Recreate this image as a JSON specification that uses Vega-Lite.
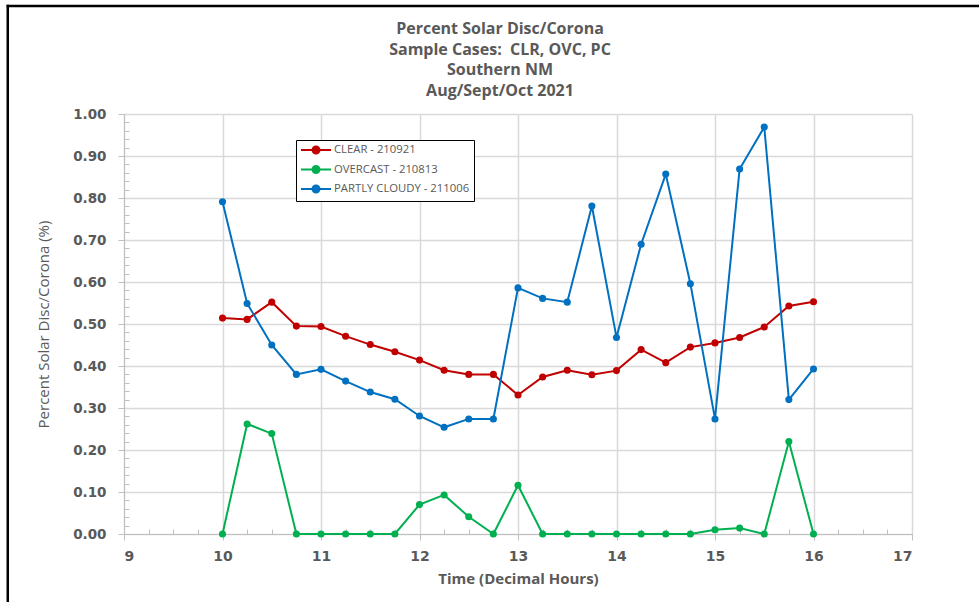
{
  "$schema": "https://vega.github.io/schema/vega-lite/v6.json",
  "width": 788,
  "height": 420,
  "autosize": {"type": "none"},
  "padding": {"left": 124, "top": 114, "right": 67, "bottom": 68},
  "background": "white",
  "title": {
    "text": ["Percent Solar Disc/Corona", "Sample Cases:\u00a0 CLR, OVC, PC", "Southern NM", "Aug/Sept/Oct 2021"],
    "anchor": "middle",
    "dx": -18,
    "offset": -95,
    "font": "Open Sans",
    "fontSize": 16,
    "fontWeight": "bold",
    "color": "#595959",
    "lineHeight": 20.5
  },
  "config": {
    "view": {"stroke": null},
    "axis": {
      "labelFont": "DejaVu Sans",
      "labelFontWeight": "bold",
      "labelFontSize": 13.5,
      "labelColor": "#595959",
      "titleColor": "#595959",
      "titleFont": "Open Sans",
      "domainColor": "#bfbfbf",
      "tickColor": "#bfbfbf",
      "gridColor": "#d9d9d9",
      "gridWidth": 1.5
    }
  },
  "datasets": {
    "cases": [
      {"case": "CLEAR - 210921", "time": 10, "pct": 0.514},
      {"case": "CLEAR - 210921", "time": 10.25, "pct": 0.511},
      {"case": "CLEAR - 210921", "time": 10.5, "pct": 0.552},
      {"case": "CLEAR - 210921", "time": 10.75, "pct": 0.495},
      {"case": "CLEAR - 210921", "time": 11, "pct": 0.494},
      {"case": "CLEAR - 210921", "time": 11.25, "pct": 0.471},
      {"case": "CLEAR - 210921", "time": 11.5, "pct": 0.451},
      {"case": "CLEAR - 210921", "time": 11.75, "pct": 0.434},
      {"case": "CLEAR - 210921", "time": 12, "pct": 0.414},
      {"case": "CLEAR - 210921", "time": 12.25, "pct": 0.390},
      {"case": "CLEAR - 210921", "time": 12.5, "pct": 0.380},
      {"case": "CLEAR - 210921", "time": 12.75, "pct": 0.380},
      {"case": "CLEAR - 210921", "time": 13, "pct": 0.331},
      {"case": "CLEAR - 210921", "time": 13.25, "pct": 0.374},
      {"case": "CLEAR - 210921", "time": 13.5, "pct": 0.390},
      {"case": "CLEAR - 210921", "time": 13.75, "pct": 0.379},
      {"case": "CLEAR - 210921", "time": 14, "pct": 0.389},
      {"case": "CLEAR - 210921", "time": 14.25, "pct": 0.439},
      {"case": "CLEAR - 210921", "time": 14.5, "pct": 0.408},
      {"case": "CLEAR - 210921", "time": 14.75, "pct": 0.445},
      {"case": "CLEAR - 210921", "time": 15, "pct": 0.455},
      {"case": "CLEAR - 210921", "time": 15.25, "pct": 0.468},
      {"case": "CLEAR - 210921", "time": 15.5, "pct": 0.493},
      {"case": "CLEAR - 210921", "time": 15.75, "pct": 0.543},
      {"case": "CLEAR - 210921", "time": 16, "pct": 0.553},
      {"case": "OVERCAST - 210813", "time": 10, "pct": 0.0},
      {"case": "OVERCAST - 210813", "time": 10.25, "pct": 0.262},
      {"case": "OVERCAST - 210813", "time": 10.5, "pct": 0.239},
      {"case": "OVERCAST - 210813", "time": 10.75, "pct": 0.0},
      {"case": "OVERCAST - 210813", "time": 11, "pct": 0.0},
      {"case": "OVERCAST - 210813", "time": 11.25, "pct": 0.0},
      {"case": "OVERCAST - 210813", "time": 11.5, "pct": 0.0},
      {"case": "OVERCAST - 210813", "time": 11.75, "pct": 0.0},
      {"case": "OVERCAST - 210813", "time": 12, "pct": 0.070},
      {"case": "OVERCAST - 210813", "time": 12.25, "pct": 0.093},
      {"case": "OVERCAST - 210813", "time": 12.5, "pct": 0.041},
      {"case": "OVERCAST - 210813", "time": 12.75, "pct": 0.0},
      {"case": "OVERCAST - 210813", "time": 13, "pct": 0.116},
      {"case": "OVERCAST - 210813", "time": 13.25, "pct": 0.0},
      {"case": "OVERCAST - 210813", "time": 13.5, "pct": 0.0},
      {"case": "OVERCAST - 210813", "time": 13.75, "pct": 0.0},
      {"case": "OVERCAST - 210813", "time": 14, "pct": 0.0},
      {"case": "OVERCAST - 210813", "time": 14.25, "pct": 0.0},
      {"case": "OVERCAST - 210813", "time": 14.5, "pct": 0.0},
      {"case": "OVERCAST - 210813", "time": 14.75, "pct": 0.0},
      {"case": "OVERCAST - 210813", "time": 15, "pct": 0.010},
      {"case": "OVERCAST - 210813", "time": 15.25, "pct": 0.014},
      {"case": "OVERCAST - 210813", "time": 15.5, "pct": 0.0},
      {"case": "OVERCAST - 210813", "time": 15.75, "pct": 0.220},
      {"case": "OVERCAST - 210813", "time": 16, "pct": 0.0},
      {"case": "PARTLY CLOUDY - 211006", "time": 10, "pct": 0.791},
      {"case": "PARTLY CLOUDY - 211006", "time": 10.25, "pct": 0.549},
      {"case": "PARTLY CLOUDY - 211006", "time": 10.5, "pct": 0.450},
      {"case": "PARTLY CLOUDY - 211006", "time": 10.75, "pct": 0.380},
      {"case": "PARTLY CLOUDY - 211006", "time": 11, "pct": 0.392},
      {"case": "PARTLY CLOUDY - 211006", "time": 11.25, "pct": 0.364},
      {"case": "PARTLY CLOUDY - 211006", "time": 11.5, "pct": 0.338},
      {"case": "PARTLY CLOUDY - 211006", "time": 11.75, "pct": 0.321},
      {"case": "PARTLY CLOUDY - 211006", "time": 12, "pct": 0.281},
      {"case": "PARTLY CLOUDY - 211006", "time": 12.25, "pct": 0.254},
      {"case": "PARTLY CLOUDY - 211006", "time": 12.5, "pct": 0.274},
      {"case": "PARTLY CLOUDY - 211006", "time": 12.75, "pct": 0.274},
      {"case": "PARTLY CLOUDY - 211006", "time": 13, "pct": 0.586},
      {"case": "PARTLY CLOUDY - 211006", "time": 13.25, "pct": 0.561},
      {"case": "PARTLY CLOUDY - 211006", "time": 13.5, "pct": 0.552},
      {"case": "PARTLY CLOUDY - 211006", "time": 13.75, "pct": 0.781},
      {"case": "PARTLY CLOUDY - 211006", "time": 14, "pct": 0.468},
      {"case": "PARTLY CLOUDY - 211006", "time": 14.25, "pct": 0.690},
      {"case": "PARTLY CLOUDY - 211006", "time": 14.5, "pct": 0.857},
      {"case": "PARTLY CLOUDY - 211006", "time": 14.75, "pct": 0.596},
      {"case": "PARTLY CLOUDY - 211006", "time": 15, "pct": 0.274},
      {"case": "PARTLY CLOUDY - 211006", "time": 15.25, "pct": 0.869},
      {"case": "PARTLY CLOUDY - 211006", "time": 15.5, "pct": 0.969},
      {"case": "PARTLY CLOUDY - 211006", "time": 15.75, "pct": 0.320},
      {"case": "PARTLY CLOUDY - 211006", "time": 16, "pct": 0.393}
    ]
  },
  "resolve": {"axis": {"x": "independent", "y": "independent"}},
  "layer": [
    {
      "description": "chart frame, left edge",
      "data": {"values": [{}]},
      "mark": {"type": "rule", "color": "black", "strokeWidth": 2.5},
      "encoding": {
        "x": {"datum": 7.82, "type": "quantitative", "scale": {"domain": [9, 17], "nice": false, "zero": false}, "axis": null},
        "y": {"datum": 1.26, "type": "quantitative", "scale": {"domain": [0, 1], "nice": false}, "axis": null},
        "y2": {"datum": -0.5}
      }
    },
    {
      "description": "chart frame, top edge",
      "data": {"values": [{}]},
      "mark": {"type": "rule", "color": "black", "strokeWidth": 2.5},
      "encoding": {
        "x": {"datum": 7.808, "type": "quantitative", "scale": {"domain": [9, 17], "nice": false, "zero": false}, "axis": null},
        "x2": {"datum": 19.5},
        "y": {"datum": 1.257, "type": "quantitative", "scale": {"domain": [0, 1], "nice": false}, "axis": null}
      }
    },
    {
      "description": "minor tick marks on both axes",
      "data": {"name": "cases"},
      "mark": {"type": "point", "opacity": 0},
      "encoding": {
        "x": {
          "field": "time", "type": "quantitative",
          "scale": {"domain": [9, 17], "nice": false, "zero": false},
          "axis": {
            "orient": "bottom", "title": null, "labels": false, "grid": false, "domain": false,
            "tickSize": -5, "tickWidth": 1,
            "values": [9.25, 9.5, 9.75, 10.25, 10.5, 10.75, 11.25, 11.5, 11.75, 12.25, 12.5, 12.75, 13.25, 13.5, 13.75, 14.25, 14.5, 14.75, 15.25, 15.5, 15.75, 16.25, 16.5, 16.75]
          }
        },
        "y": {
          "field": "pct", "type": "quantitative",
          "scale": {"domain": [0, 1], "nice": false},
          "axis": {
            "orient": "left", "title": null, "labels": false, "grid": false, "domain": false,
            "tickSize": -5, "tickWidth": 1,
            "values": [0.02, 0.04, 0.06, 0.08, 0.12, 0.14, 0.16, 0.18, 0.22, 0.24, 0.26, 0.28, 0.32, 0.34, 0.36, 0.38, 0.42, 0.44, 0.46, 0.48, 0.52, 0.54, 0.56, 0.58, 0.62, 0.64, 0.66, 0.68, 0.72, 0.74, 0.76, 0.78, 0.82, 0.84, 0.86, 0.88, 0.92, 0.94, 0.96, 0.98]
          }
        }
      }
    },
    {
      "data": {"name": "cases"},
      "mark": {"type": "line", "strokeWidth": 2},
      "encoding": {
        "x": {
          "field": "time", "type": "quantitative",
          "scale": {"domain": [9, 17], "nice": false, "zero": false},
          "axis": {
            "orient": "bottom", "title": "Time (Decimal Hours)", "grid": true,
            "values": [9, 10, 11, 12, 13, 14, 15, 16, 17], "format": "d",
            "tickSize": 6, "labelPadding": 9, "labelFontSize": 14,
            "titleFontSize": 15, "titleFontWeight": "bold", "titlePadding": 8
          }
        },
        "y": {
          "field": "pct", "type": "quantitative",
          "scale": {"domain": [0, 1], "nice": false},
          "axis": {
            "orient": "left", "title": "Percent Solar Disc/Corona (%)", "grid": true,
            "values": [0, 0.1, 0.2, 0.3, 0.4, 0.5, 0.6, 0.7, 0.8, 0.9, 1.0], "format": ".2f",
            "tickSize": 6, "labelPadding": 12,
            "titleFontSize": 15, "titleFontWeight": "normal", "titlePadding": 21
          }
        },
        "color": {
          "field": "case", "type": "nominal",
          "scale": {
            "domain": ["CLEAR - 210921", "OVERCAST - 210813", "PARTLY CLOUDY - 211006"],
            "range": ["#C00000", "#00B050", "#0070C0"]
          },
          "legend": {
            "title": null,
            "orient": "none", "legendX": 172, "legendY": 26,
            "strokeColor": "black", "fillColor": "white", "padding": 4,
            "symbolType": "M -3 0 L 3 0 M 0.7 0 A 0.7 0.7 0 1 1 -0.7 0 A 0.7 0.7 0 1 1 0.7 0 Z",
            "symbolSize": 100, "symbolStrokeWidth": 2, "symbolOffset": 10,
            "labelOffset": 12, "rowPadding": 3.5,
            "labelFont": "Open Sans", "labelFontSize": 11.3, "labelColor": "#595959",
            "encode": {
              "symbols": {
                "update": {
                  "fill": {"scale": "color", "field": "value"},
                  "stroke": {"scale": "color", "field": "value"},
                  "opacity": {"value": 1}
                }
              }
            }
          }
        }
      }
    },
    {
      "data": {"name": "cases"},
      "mark": {"type": "point", "filled": true, "size": 50, "opacity": 1},
      "encoding": {
        "x": {"field": "time", "type": "quantitative", "scale": {"domain": [9, 17], "nice": false, "zero": false}, "axis": null},
        "y": {"field": "pct", "type": "quantitative", "scale": {"domain": [0, 1], "nice": false}, "axis": null},
        "color": {"field": "case", "type": "nominal"}
      }
    }
  ]
}
